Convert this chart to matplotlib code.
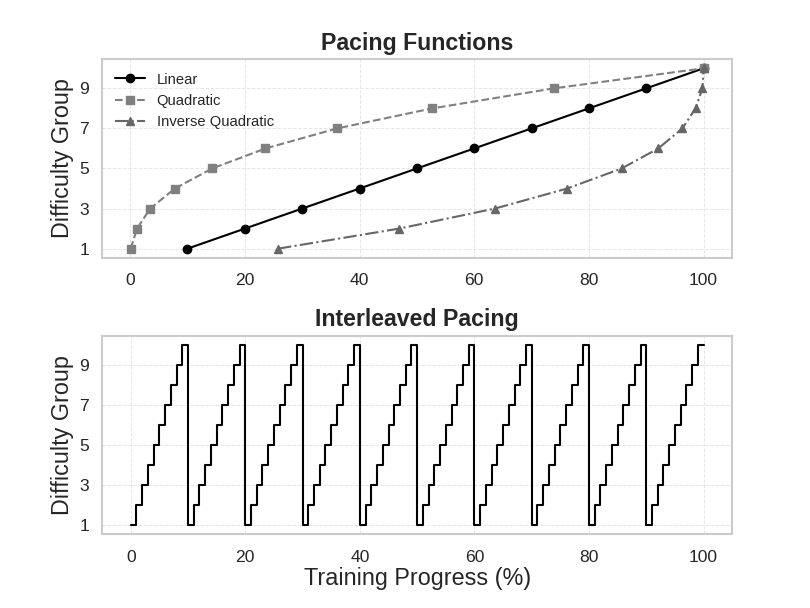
#!/usr/bin/env python3
"""Pacing functions and interleaved pacing figure."""

import matplotlib
matplotlib.use('Agg')
import matplotlib.pyplot as plt
import seaborn as sns

# Data
groups = [1, 2, 3, 4, 5, 6, 7, 8, 9, 10]
linear_x = [10, 20, 30, 40, 50, 60, 70, 80, 90, 100]
quadratic_x = [0.1, 1.2, 3.5, 7.8, 14.3, 23.6, 36.1, 52.7, 73.9, 100]
inverse_x = [25.8, 46.9, 63.6, 76.2, 85.7, 92.1, 96.3, 98.6, 99.8, 100]

# Interleaved: one full sweep of groups every 10% of training
progress = list(range(0, 101))
interleaved = groups * 10 + [10]

sns.set_style('whitegrid')
plt.rcParams['font.family'] = ['Liberation Sans', 'DejaVu Sans']

fig = plt.figure(figsize=(8.1, 6.08), dpi=100)
ax1 = fig.add_axes([0.126, 0.5762, 0.778, 0.3263])
ax2 = fig.add_axes([0.126, 0.1217, 0.778, 0.3257])

grid_kw = dict(color='#e6e6e6', linestyle='--', linewidth=0.7)

# Top: pacing functions
ax1.plot(linear_x, groups, '-o', color='black', lw=1.5, ms=6, label='Linear')
ax1.plot(quadratic_x, groups, '--s', color='#808080', lw=1.5, ms=6, label='Quadratic')
ax1.plot(inverse_x, groups, '-.^', color='#666666', lw=1.5, ms=6,
         label='Inverse Quadratic')
ax1.set_title('Pacing Functions', fontsize=16.7, fontweight='bold', pad=7)
ax1.set_ylabel('Difficulty Group', fontsize=16.8)
ax1.legend(loc='upper left', frameon=False, fontsize=10.6)

# Bottom: interleaved pacing
ax2.step(progress, interleaved, where='post', color='black', lw=1.5)
ax2.set_title('Interleaved Pacing', fontsize=16.7, fontweight='bold', pad=7)
ax2.set_ylabel('Difficulty Group', fontsize=16.8)
ax2.set_xlabel('Training Progress (%)', fontsize=16.8, labelpad=2)

for ax in (ax1, ax2):
    ax.set_yticks([1, 3, 5, 7, 9])
    ax.set_xticks([0, 20, 40, 60, 80, 100])
    ax.tick_params(labelsize=12.6, colors='#262626')
    ax.tick_params(axis='x', pad=7.8)
    ax.tick_params(axis='y', pad=5.7)
    ax.grid(True, **grid_kw)
    for s in ax.spines.values():
        s.set_color('#cccccc')
        s.set_linewidth(1.5)

fig.savefig('out.png', dpi=100)
print("Saved: out.png")
